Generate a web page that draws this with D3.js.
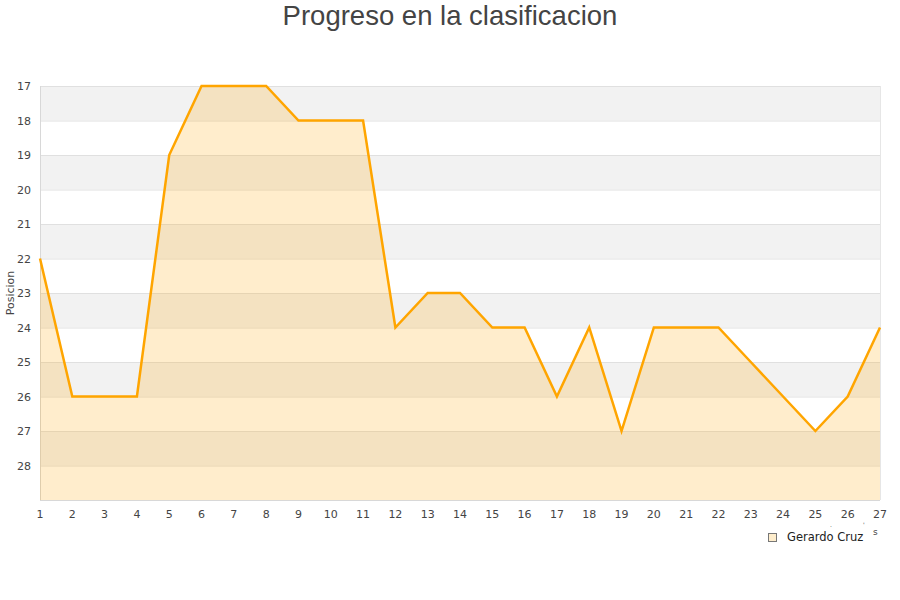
<!DOCTYPE html>
<html><head><meta charset="utf-8">
<script src="https://cdn.jsdelivr.net/npm/d3@7"></script>
<style>body{margin:0;background:#fff}svg{display:block}</style>
</head><body>
<svg id="c" width="900" height="600"></svg>
<script>
const jornadas = [1,2,3,4,5,6,7,8,9,10,11,12,13,14,15,16,17,18,19,20,21,22,23,24,25,26,27];
const posiciones = [22,26,26,26,19,17,17,17,18,18,18,24,23,23,24,24,26,24,27,24,24,24,25,26,27,26,24];
const yTicks = [17,18,19,20,21,22,23,24,25,26,27,28];
const titulo = "Progreso en la clasificacion";
const serie = "Gerardo Cruz";
const yLabel = "Posicion";

const svg = d3.select("#c");
const L=40,R=880,T=86,B=500;
const x = d3.scaleLinear().domain([1,27]).range([L,R]);
const y = d3.scaleLinear().domain([17,29]).range([T,B]);

const bands = d3.range(17,29);
svg.selectAll("rect.band").data(bands).enter().append("rect")
  .attr("x",L).attr("width",R-L)
  .attr("y",d=>y(d)).attr("height",d=>y(d+1)-y(d))
  .attr("fill",(d,i)=>i%2===0?"#f2f2f2":"#ffffff");
svg.selectAll("line.grid").data(d3.range(17,30)).enter().append("line")
  .attr("x1",L).attr("x2",R).attr("y1",d=>y(d)+0.5).attr("y2",d=>y(d)+0.5)
  .attr("stroke","#e0e0e0").attr("stroke-width",1);
svg.append("line").attr("x1",L+0.5).attr("x2",L+0.5).attr("y1",T).attr("y2",B).attr("stroke","#d8d8d8");
svg.append("line").attr("x1",R+0.5).attr("x2",R+0.5).attr("y1",T).attr("y2",B).attr("stroke","#e6e6e6");
svg.append("line").attr("x1",L).attr("x2",R).attr("y1",B+0.5).attr("y2",B+0.5).attr("stroke","#d8d8d8");

const pts = jornadas.map((j,i)=>[j,posiciones[i]]);
const area = d3.area().x(d=>x(d[0])).y0(y(29)).y1(d=>y(d[1]));
svg.append("path").attr("d",area(pts)).attr("fill","#ffa500").attr("fill-opacity",0.2);
const line = d3.line().x(d=>x(d[0])).y(d=>y(d[1]));
svg.append("path").attr("d",line(pts)).attr("fill","none").attr("stroke","#ffa500")
  .attr("stroke-width",2.5).attr("stroke-linejoin","miter");

svg.selectAll("text.yt").data(yTicks).enter().append("text")
  .attr("x",31).attr("y",d=>y(d)+4).attr("text-anchor","end")
  .attr("font-family","DejaVu Sans").attr("font-size",11).attr("fill","#444").text(d=>d);
svg.selectAll("text.xt").data(jornadas).enter().append("text")
  .attr("x",d=>x(d)).attr("y",518).attr("text-anchor","middle")
  .attr("font-family","DejaVu Sans").attr("font-size",11).attr("fill","#444").text(d=>d);

svg.append("text").attr("transform",`translate(14,${293}) rotate(-90)`).attr("text-anchor","middle")
  .attr("font-family","DejaVu Sans").attr("font-size",11).attr("fill","#444").text(yLabel);

svg.append("text").attr("x",450).attr("y",25).attr("text-anchor","middle")
  .attr("font-family","Liberation Sans, Arial, sans-serif").attr("font-size",27.5).attr("fill","#444").text(titulo);

svg.append("rect").attr("x",768.5).attr("y",533.5).attr("width",8).attr("height",8)
  .attr("fill","#feedcc").attr("stroke","#777");
svg.append("text").attr("x",787).attr("y",541).attr("font-family","DejaVu Sans").attr("font-size",11.5)
  .attr("fill","#222").text(serie);
svg.append("text").attr("x",873).attr("y",535).attr("font-family","DejaVu Sans").attr("font-size",9)
  .attr("fill","#444").text("s");
svg.append("text").attr("x",830).attr("y",527).attr("font-family","DejaVu Sans").attr("font-size",6)
  .attr("fill","#444").text(".");
svg.append("text").attr("x",863).attr("y",527).attr("font-family","DejaVu Sans").attr("font-size",6)
  .attr("fill","#444").text("'");
</script>
</body></html>
